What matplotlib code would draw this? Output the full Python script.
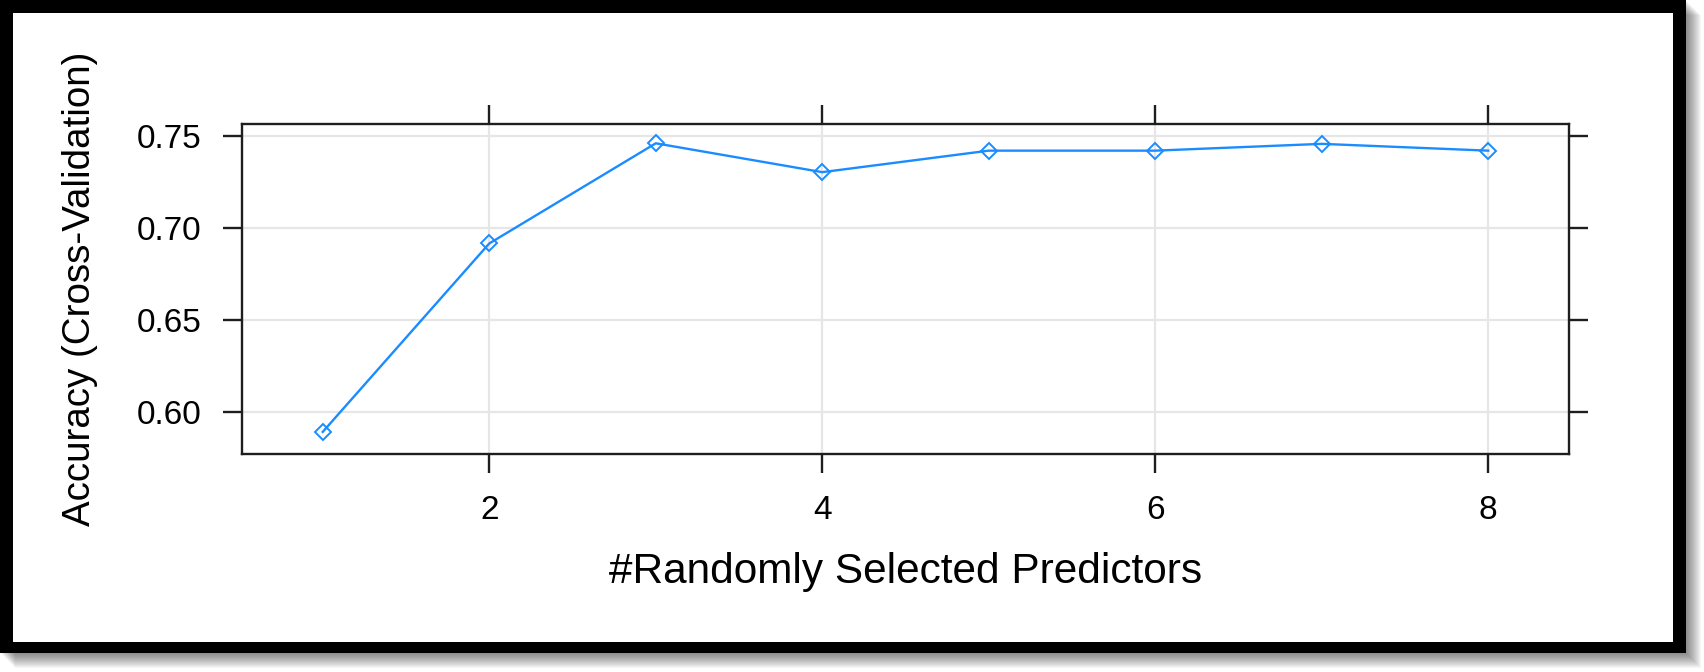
import matplotlib
matplotlib.use("Agg")
import matplotlib.pyplot as plt
from matplotlib.patches import Rectangle

# data
mtry = [1, 2, 3, 4, 5, 6, 7, 8]
accuracy = [0.589, 0.6915, 0.746, 0.7303, 0.742, 0.742, 0.7457, 0.742]
xticks = [2, 4, 6, 8]
yticks = [0.60, 0.65, 0.70, 0.75]
ytick_labels = ["0.60", "0.65", "0.70", "0.75"]

plt.rcParams['font.family'] = ['Liberation Sans', 'DejaVu Sans']

W, H = 1704, 672
fig = plt.figure(figsize=(W / 100, H / 100), dpi=100)
fig.patch.set_facecolor("white")


def px_rect(x0, y0, x1, y1, **kw):
    # rectangle given in pixel coords with y measured from the top
    return Rectangle((x0 / W, 1 - y1 / H), (x1 - x0) / W, (y1 - y0) / H,
                     transform=fig.transFigure, **kw)


# soft drop shadow behind the black frame
for k in range(1, 16):
    fig.add_artist(px_rect(0 + k, 0 + k, 1686 + k, 653 + k,
                           facecolor="black", edgecolor="none", alpha=0.035, zorder=0))
fig.add_artist(px_rect(0, 0, 1686, 653, facecolor="black", edgecolor="none", zorder=1))
fig.add_artist(px_rect(12.7, 13, 1673, 641.7, facecolor="white", edgecolor="none", zorder=2))

ax = fig.add_axes([242 / W, 1 - 454.3 / H, (1569 - 242) / W, (454.3 - 124) / H], zorder=3)
ax.set_facecolor("white")

ax.plot(mtry, accuracy, color="#1a8cff", linewidth=1.7,
        marker="D", markersize=8, markerfacecolor="none",
        markeredgecolor="#1a8cff", markeredgewidth=1.4, zorder=3)

ax.set_xlim(0.515, 8.485)
ax.set_ylim(0.5768, 0.7565)
ax.set_xticks(xticks)
ax.set_yticks(yticks)
ax.set_yticklabels(ytick_labels)

ax.grid(True, color="#e6e6e6", linewidth=1.6)
ax.set_axisbelow(True)

for s in ax.spines.values():
    s.set_linewidth(1.7)
    s.set_color("#1e1e1e")

ax.tick_params(axis="both", which="both", direction="out", length=14,
               width=1.7, color="#1e1e1e", labelsize=24, pad=15,
               top=True, right=True, labeltop=False, labelright=False)

ax.set_xlabel("#Randomly Selected Predictors", fontsize=30.5, labelpad=19)
ax.set_ylabel("Accuracy (Cross-Validation)", fontsize=27.7, labelpad=28)

fig.savefig("out.png", dpi=100)
